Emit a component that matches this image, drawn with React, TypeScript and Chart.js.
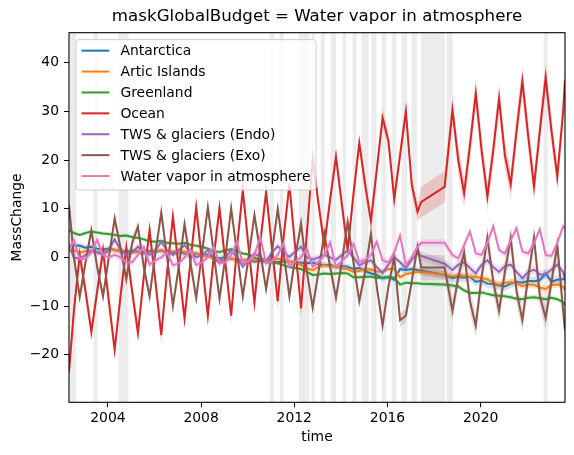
import { useEffect, useRef } from "react";
import { Chart, registerables } from "chart.js";

Chart.register(...registerables);

// Time axis (decimal years)
const timeYears = [
  2002.33, 2002.54, 2002.79,
  2003.04, 2003.29, 2003.54, 2003.79,
  2004.04, 2004.29, 2004.54, 2004.79,
  2005.04, 2005.29, 2005.54, 2005.79,
  2006.04, 2006.29, 2006.54, 2006.79,
  2007.04, 2007.29, 2007.54, 2007.79,
  2008.04, 2008.29, 2008.54, 2008.79,
  2009.04, 2009.29, 2009.54, 2009.79,
  2010.04, 2010.29, 2010.54, 2010.79,
  2011.04, 2011.29, 2011.54, 2011.79,
  2012.04, 2012.29, 2012.54, 2012.79,
  2013.04, 2013.29, 2013.54, 2013.79,
  2014.04, 2014.29, 2014.54, 2014.79,
  2015.04, 2015.29, 2015.54, 2015.79,
  2016.04, 2016.29, 2016.54, 2016.79,
  2017.04, 2017.29, 2017.45,
  2018.45, 2018.79,
  2019.04, 2019.29, 2019.54, 2019.79,
  2020.04, 2020.29, 2020.54, 2020.79,
  2021.04, 2021.29, 2021.54, 2021.79,
  2022.04, 2022.29, 2022.54, 2022.79,
  2023.04, 2023.29, 2023.54, 2023.62,
];

const antarctica = [
  2.3, 2.5, 2.4,
  2.0, 2.2, 1.8, 1.6,
  1.8, 1.5, 1.3, 1.2,
  1.4, 1.2, 1.0, 1.3,
  1.1, 1.4, 1.0, 0.9,
  1.1, 0.8, 0.6, 0.8,
  0.5, 0.6, 0.1, -0.2,
  0.0, -0.3, -0.4, -0.6,
  -0.5, -0.9, -0.7, -0.9,
  -0.8, -1.0, -0.8, -0.9,
  -1.0, -1.1, -1.2, -1.1,
  -1.4, -1.6, -1.5, -2.0,
  -1.8, -1.9, -2.4, -2.2,
  -2.8, -3.3, -3.6, -4.3,
  -4.0, -4.6, -2.4, -2.6,
  -2.4, -2.6, -2.7,
  -3.6, -4.3,
  -4.0, -4.2, -4.0, -5.0,
  -4.8, -5.4, -5.5, -5.8,
  -6.0, -5.4, -5.0, -5.2,
  -4.8, -4.9, -4.7, -3.3,
  -5.0, -4.6, -4.5, -4.3,
];

const articIslands = [
  1.6, 1.4, 1.0,
  1.3, 1.2, 1.1, 1.2,
  1.5, 1.6, 1.2, 0.9,
  1.0, 1.1, 0.8, 1.0,
  1.3, 1.5, 1.2, 1.2,
  1.1, 1.2, 0.9, 0.8,
  0.4, 0.2, -0.3, -0.6,
  -0.4, -0.2, -0.5, -0.6,
  -0.5, -0.4, -0.7, -0.5,
  -0.4, -0.3, -0.6, -0.9,
  -1.2, -1.5, -2.3, -2.6,
  -2.0, -1.6, -1.8, -1.9,
  -2.3, -2.4, -3.0, -2.8,
  -2.4, -2.5, -2.9, -3.0,
  -2.4, -2.4, -4.1, -3.4,
  -3.2, -3.0, -3.0,
  -3.5, -3.9,
  -3.7, -3.8, -4.0, -4.0,
  -4.3, -4.5, -5.2, -5.6,
  -5.2, -5.1, -5.3, -5.9,
  -5.6, -5.7, -6.2, -6.5,
  -5.7, -5.6, -6.0, -6.7,
];

const greenland = [
  5.6, 5.0, 4.6,
  5.0, 5.3, 5.1, 4.9,
  4.8, 4.6, 4.4, 4.5,
  4.2, 4.0, 3.7, 3.3,
  3.2, 3.4, 3.0, 2.9,
  2.8, 3.0, 2.6, 2.4,
  2.2, 1.8, 1.3, 1.1,
  1.4, 1.7, 1.2, 0.8,
  0.6, 0.0, -0.6, -0.8,
  -0.9, -1.2, -1.6, -2.0,
  -2.2, -2.4, -3.0, -3.6,
  -3.5, -3.3, -3.4, -3.3,
  -3.2, -3.3, -4.1, -4.1,
  -4.0, -4.0, -4.2, -4.2,
  -4.1, -4.2, -5.6, -5.2,
  -5.3, -5.3, -5.4,
  -5.6, -5.8,
  -6.0, -6.8, -7.3, -7.3,
  -7.2, -7.5, -7.8, -7.9,
  -8.0, -8.2, -8.5, -8.6,
  -8.3, -8.2, -8.4, -8.6,
  -8.3, -8.6, -9.2, -9.8,
];

const ocean = [
  -23.5, -11, 0.5,
  -7, -15.3, -7, 1.5,
  -9, -19, -8, 2,
  -7, -15.5, -4, 5.6,
  -5, -16, -3, 8.4,
  -2, -12.6, -1, 10.3,
  -1, -12, 0, 10.1,
  -1, -12, 2, 13.8,
  2, -9.3, 3, 13.5,
  2, -9, 4, 15,
  2, -10.5, 5, 20.4,
  11, 2.5, 12, 20.7,
  11, 1.5, 13, 23.5,
  15, 7.5, 18, 28.7,
  24, 12, 21, 30,
  15, 9.4, 11.4,
  14.5, 30.3,
  20, 13.2, 23, 33.7,
  22, 12.5, 22, 32.7,
  21, 15, 26, 36.3,
  25, 14.6, 26, 37,
  26, 16.6, 30, 36.5,
];

const twsEndo = [
  2.5, 0, -0.3,
  0.5, 1.5, 1, 0.5,
  1.5, 3.7, 1.5, 0.5,
  1, 2.2, 1, 0.5,
  1.5, 3.2, 1.5, 0.5,
  1.5, 2.5, 1, 0,
  0.5, 1.5, 0, -1.2,
  0, 1.5, 0, -1.9,
  -0.5, 0.8, 0, -0.8,
  1, 2.3, 1, 0.1,
  1.2, 2.2, 0, -0.4,
  0, 0.5, 0, -0.5,
  0.5, 1.4, 0, -1.6,
  -1, -0.6, -2, -3.2,
  -1.5, 0.1, -1, -2.2,
  -0.5, 0.8, 0.3,
  -1.3, -2.6,
  -1.5, -1, -2.2, -3.3,
  -1.5, -0.6, -2, -3,
  -1.8, -1.5, -3, -4.3,
  -3, -2.5, -3.5, -3.5,
  -2.5, -1.5, -3, -4.5,
];

const twsExo = [
  10.8, 0, -8.1,
  -1, 5.6, -2, -8,
  0, 8, 2, -4.5,
  3, 6.3, -2, -8,
  1, 9.2, 0, -10,
  -2, 6.8, -1, -8.4,
  1, 10.3, 1, -8.5,
  0, 10.1, 1, -8,
  0, 8.7, 1, -6.5,
  1, 10, 1, -8,
  0, 7, -3, -10.3,
  -3, 4.9, -2, -8.3,
  -1, 7.3, -1, -9,
  -3, 4.9, -6, -14,
  -6, 0.1, -12.9, -12,
  -5, 2.2, -2.1,
  -2.1, -11,
  -4, 1, -9, -14,
  -4, 4, -5, -11,
  -3, 4, -7, -12.9,
  -4, 4, -8, -12.4,
  -5, 2.5, -11, -15,
];

const waterVapor = [
  1.5, 3.5, -0.3,
  -0.3, 1, 3.6, 0.5,
  0, 0.5, 0, -1,
  -1, 0.5, 2.2, -1.5,
  -0.6, 0, 1, -1.6,
  -1.2, 0, 1.5, -1.6,
  -1, 0, 2.2, -1.2,
  -1, 0.5, 3.2, -1.2,
  -0.8, 0.5, 4.2, -1.2,
  -0.8, 0.5, 2.9, -1.9,
  -0.8, 0, 1.8, -1.9,
  -1, 0.5, 3.1, -1.9,
  -0.8, 0.5, 2.8, -0.9,
  -0.5, 0.5, 3.2, -0.6,
  -1.1, 1, 4.5, -1.6,
  0, 2.2, 3.0,
  3.0, 0.5,
  -0.2, 2.5, 5.3, 0.8,
  0.5, 3, 6.4, 1.5,
  0.8, 3.5, 6, 1.2,
  0.8, 3, 5.8, 0.5,
  0.3, 3, 6.4, 6,
];

// Half-width of the shaded uncertainty band: [GRACE, gap, GRACE-FO]
const antarcticaSigma = [0.6, 0.9, 0.9];
const articSigma = [0.5, 0.7, 0.7];
const greenlandSigma = [0.4, 0.5, 0.5];
const oceanSigma = [1.9, 3.2, 3.0];
const endoSigma = [0.7, 0.9, 0.9];
const exoSigma = [1.4, 2.6, 2.4];
const vaporSigma = [0.8, 0.8, 0.8];
const eraBounds = [2017.4, 2018.5];

const seriesNames = [
  "Antarctica",
  "Artic Islands",
  "Greenland",
  "Ocean",
  "TWS & glaciers (Endo)",
  "TWS & glaciers (Exo)",
  "Water vapor in atmosphere",
];
const seriesColors = ["#1f77b4", "#ff7f0e", "#2ca02c", "#d62728", "#9467bd", "#8c564b", "#e377c2"];

// Missing-month spans (shaded grey)
const gapStarts = [2002.37, 2003.39, 2004.46, 2010.95, 2011.37, 2012.2, 2012.74, 2013.14, 2013.56, 2014.07, 2014.5, 2014.88, 2015.31, 2015.74, 2016.18, 2016.6, 2017.03, 2017.43, 2018.54, 2022.7];
const gapEnds = [2002.63, 2003.55, 2004.88, 2011.13, 2011.54, 2012.65, 2012.88, 2013.31, 2013.79, 2014.22, 2014.67, 2015.19, 2015.53, 2015.94, 2016.39, 2016.85, 2017.26, 2018.46, 2018.8, 2022.88];

const xTickValues = [2004, 2008, 2012, 2016, 2020];
const yTickValues = [-20, -10, 0, 10, 20, 30, 40];

const FONT = '"DejaVu Sans", "Liberation Sans", sans-serif';

function hexToRgba(hex: string, a: number) {
  const r = parseInt(hex.slice(1, 3), 16);
  const g = parseInt(hex.slice(3, 5), 16);
  const b = parseInt(hex.slice(5, 7), 16);
  return `rgba(${r},${g},${b},${a})`;
}

const gapPlugin = {
  id: "gapBands",
  beforeDatasetsDraw(chart: any) {
    const { ctx, chartArea: a, scales } = chart;
    const x = scales.x;
    ctx.save();
    ctx.beginPath();
    ctx.rect(a.left, a.top, a.right - a.left, a.bottom - a.top);
    ctx.clip();
    ctx.fillStyle = "rgba(128,128,128,0.15)";
    for (let i = 0; i < gapStarts.length; i++) {
      const x0 = x.getPixelForValue(gapStarts[i]);
      const x1 = x.getPixelForValue(gapEnds[i]);
      ctx.fillRect(x0, a.top, x1 - x0, a.bottom - a.top);
    }
    ctx.restore();
  },
};

const frameLegendPlugin = {
  id: "frameLegend",
  afterDatasetsDraw(chart: any) {
    const { ctx, chartArea: a } = chart;
    ctx.save();
    ctx.strokeStyle = "#000";
    ctx.lineWidth = 1.1;
    ctx.strokeRect(a.left, a.top, a.right - a.left, a.bottom - a.top);

    const items = chart.data.datasets.filter((d: any) => d.isMain);
    const fs = 13.9;
    ctx.font = `${fs}px ${FONT}`;
    const textW = Math.max(...items.map((d: any) => ctx.measureText(d.label).width));
    const pad = 0.4 * fs;
    const handle = 2 * fs;
    const hpad = 0.8 * fs;
    const rowH = 20.9;
    const left = a.left + 0.5 * fs;
    const top = a.top + 0.5 * fs;
    const w = pad + handle + hpad + textW + pad;
    const h = 22 + (items.length - 1) * rowH + 3;
    const r = 3;
    ctx.beginPath();
    ctx.moveTo(left + r, top);
    ctx.lineTo(left + w - r, top);
    ctx.arcTo(left + w, top, left + w, top + r, r);
    ctx.lineTo(left + w, top + h - r);
    ctx.arcTo(left + w, top + h, left + w - r, top + h, r);
    ctx.lineTo(left + r, top + h);
    ctx.arcTo(left, top + h, left, top + h - r, r);
    ctx.lineTo(left, top + r);
    ctx.arcTo(left, top, left + r, top, r);
    ctx.closePath();
    ctx.fillStyle = "rgba(255,255,255,0.8)";
    ctx.fill();
    ctx.strokeStyle = "#cccccc";
    ctx.lineWidth = 1;
    ctx.stroke();

    ctx.textBaseline = "middle";
    ctx.textAlign = "left";
    items.forEach((d: any, i: number) => {
      const cy = top + 11 + i * rowH;
      ctx.strokeStyle = d.borderColor;
      ctx.lineWidth = 2;
      ctx.beginPath();
      ctx.moveTo(left + pad, cy);
      ctx.lineTo(left + pad + handle, cy);
      ctx.stroke();
      ctx.fillStyle = "#000";
      ctx.fillText(d.label, left + pad + handle + hpad, cy + 1);
    });
    ctx.restore();
  },
};

export default function App() {
  const ref = useRef<HTMLCanvasElement | null>(null);

  useEffect(() => {
    document.body.style.margin = "0";
    if (!ref.current) return;

    const seriesValues = [antarctica, articIslands, greenland, ocean, twsEndo, twsExo, waterVapor];
    const seriesSigma = [antarcticaSigma, articSigma, greenlandSigma, oceanSigma, endoSigma, exoSigma, vaporSigma];
    const eraOf = (t: number) => (t < eraBounds[0] ? 0 : t < eraBounds[1] ? 1 : 2);

    const datasets: any[] = [];
    let k = 0;
    seriesValues.forEach((vals, s) => {
      const sig = seriesSigma[s];
      const color = seriesColors[s];
      datasets.push({
        label: seriesNames[s] + " upper",
        data: timeYears.map((t, i) => ({ x: t, y: vals[i] + sig[eraOf(t)] })),
        borderWidth: 0,
        borderColor: "rgba(0,0,0,0)",
        pointRadius: 0,
        fill: false,
        order: -k++,
        clip: 0,
      });
      datasets.push({
        label: seriesNames[s] + " lower",
        data: timeYears.map((t, i) => ({ x: t, y: vals[i] - sig[eraOf(t)] })),
        borderWidth: 0,
        borderColor: "rgba(0,0,0,0)",
        backgroundColor: hexToRgba(color, 0.2),
        pointRadius: 0,
        fill: "-1",
        order: -k++,
        clip: 0,
      });
      datasets.push({
        label: seriesNames[s],
        isMain: true,
        data: timeYears.map((t, i) => ({ x: t, y: vals[i] })),
        borderColor: color,
        backgroundColor: color,
        borderWidth: 2,
        pointRadius: 0,
        fill: false,
        tension: 0,
        order: -k++,
        clip: 0,
      });
    });

    const tickFont = { family: FONT, size: 13.9, weight: "normal" as const };

    const chart = new Chart(ref.current, {
      type: "line",
      data: { datasets },
      options: {
        responsive: false,
        animation: false,
        events: [],
        layout: { padding: { left: 0, right: 9, top: 0, bottom: 0 } },
        plugins: {
          legend: { display: false },
          tooltip: { enabled: false },
          title: {
            display: true,
            text: "maskGlobalBudget = Water vapor in atmosphere",
            fullSize: false,
            color: "#000",
            font: { family: FONT, size: 16.67, weight: "normal", lineHeight: 1.2 },
            padding: { top: 7, bottom: 5.7 },
          },
        },
        scales: {
          x: {
            type: "linear",
            min: timeYears[0],
            max: timeYears[timeYears.length - 1],
            afterBuildTicks: (s: any) => {
              s.ticks = xTickValues.map((v) => ({ value: v }));
            },
            afterFit: (s: any) => {
              s.height = 52.7;
            },
            ticks: {
              callback: (v: any) => String(v),
              color: "#000",
              font: tickFont,
              padding: 3,
              maxRotation: 0,
              autoSkip: false,
            },
            grid: { drawOnChartArea: false, drawTicks: true, tickLength: 5, color: "#000", lineWidth: 1 },
            border: { display: false },
            title: {
              display: true,
              text: "time",
              color: "#000",
              font: tickFont,
              padding: { top: 0, bottom: 9.7 },
            },
          },
          y: {
            type: "linear",
            min: -29.8,
            max: 46.2,
            afterBuildTicks: (s: any) => {
              s.ticks = yTickValues.map((v) => ({ value: v }));
            },
            afterFit: (s: any) => {
              s.width = 69;
            },
            ticks: {
              callback: (v: any) => (v < 0 ? "\u2212" + Math.abs(v) : String(v)),
              color: "#000",
              font: tickFont,
              padding: 5,
              autoSkip: false,
            },
            grid: { drawOnChartArea: false, drawTicks: true, tickLength: 5, color: "#000", lineWidth: 1 },
            border: { display: false },
            title: {
              display: true,
              text: "MassChange",
              color: "#000",
              font: tickFont,
              padding: { top: 8.7, bottom: 0 },
            },
          },
        },
      },
      plugins: [gapPlugin, frameLegendPlugin],
    } as any);

    return () => chart.destroy();
  }, []);

  return (
    <div style={{ width: 574, height: 455 }}>
      <canvas ref={ref} width={574} height={455} style={{ display: "block" }} />
    </div>
  );
}
